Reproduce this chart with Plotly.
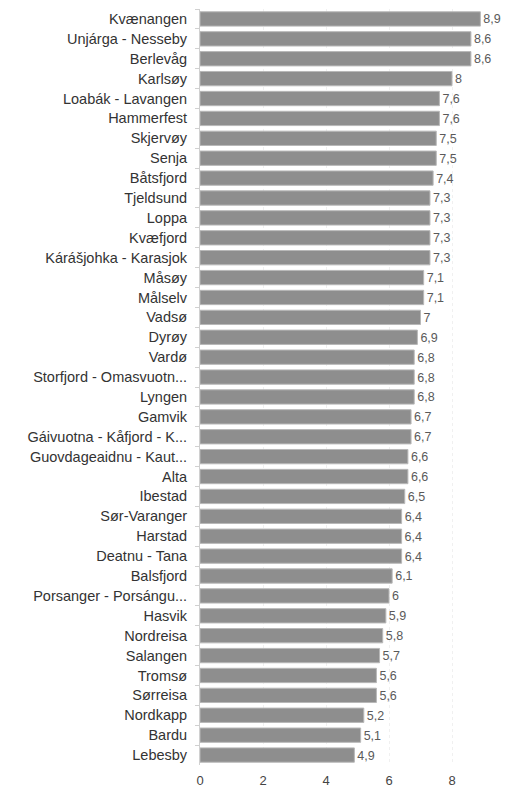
import plotly.graph_objects as go

kommuner = [
    "Kvænangen", "Unjárga - Nesseby", "Berlevåg", "Karlsøy", "Loabák - Lavangen",
    "Hammerfest", "Skjervøy", "Senja", "Båtsfjord", "Tjeldsund", "Loppa", "Kvæfjord",
    "Kárášjohka - Karasjok", "Måsøy", "Målselv", "Vadsø", "Dyrøy", "Vardø",
    "Storfjord - Omasvuotn...", "Lyngen", "Gamvik", "Gáivuotna - Kåfjord - K...",
    "Guovdageaidnu - Kaut...", "Alta", "Ibestad", "Sør-Varanger", "Harstad",
    "Deatnu - Tana", "Balsfjord", "Porsanger - Porsángu...", "Hasvik", "Nordreisa",
    "Salangen", "Tromsø", "Sørreisa", "Nordkapp", "Bardu", "Lebesby",
]
verdier = [
    8.9, 8.6, 8.6, 8, 7.6, 7.6, 7.5, 7.5, 7.4, 7.3, 7.3, 7.3, 7.3, 7.1, 7.1, 7,
    6.9, 6.8, 6.8, 6.8, 6.7, 6.7, 6.6, 6.6, 6.5, 6.4, 6.4, 6.4, 6.1, 6, 5.9, 5.8,
    5.7, 5.6, 5.6, 5.2, 5.1, 4.9,
]
x_ticks = [0, 2, 4, 6, 8]

tekster = [("%g" % v).replace(".", ",") for v in verdier]

FONT = "Liberation Sans, Arial, sans-serif"

fig = go.Figure(go.Bar(
    x=verdier,
    y=kommuner,
    orientation="h",
    marker=dict(color="#8e8e8e", line=dict(color="#b8b8b8", width=1)),
    text=tekster,
    textposition="outside",
    textfont=dict(family=FONT, size=14, color="#5a5a5a"),
    cliponaxis=False,
    width=0.72,
))

fig.update_layout(
    width=506, height=789,
    margin=dict(l=200, r=0, t=9, b=24),
    paper_bgcolor="white",
    plot_bgcolor="white",
    showlegend=False,
    separators=", ",
    font=dict(family=FONT, size=14, color="#333333"),
)
fig.update_xaxes(
    range=[0, 9.714],
    tickvals=x_ticks,
    showgrid=True,
    gridcolor="#f0f0f0",
    griddash="dot",
    gridwidth=1,
    zeroline=False,
    showline=False,
    ticks="",
    ticklabelstandoff=6,
    automargin=False,
    tickfont=dict(family=FONT, size=13, color="#444444"),
)
fig.update_yaxes(
    type="category",
    autorange="reversed",
    showgrid=False,
    showline=True,
    linecolor="#d0d0d0",
    linewidth=1,
    ticks="outside",
    tickson="boundaries",
    ticklen=4,
    tickcolor="#d0d0d0",
    ticklabelstandoff=9,
    automargin=False,
    tickfont=dict(family=FONT, size=14.5, color="#333333"),
)

fig.write_html(
    "out.html",
    config={"displayModeBar": False},
    post_script="document.body.style.margin='0';document.body.style.padding='0';",
)
